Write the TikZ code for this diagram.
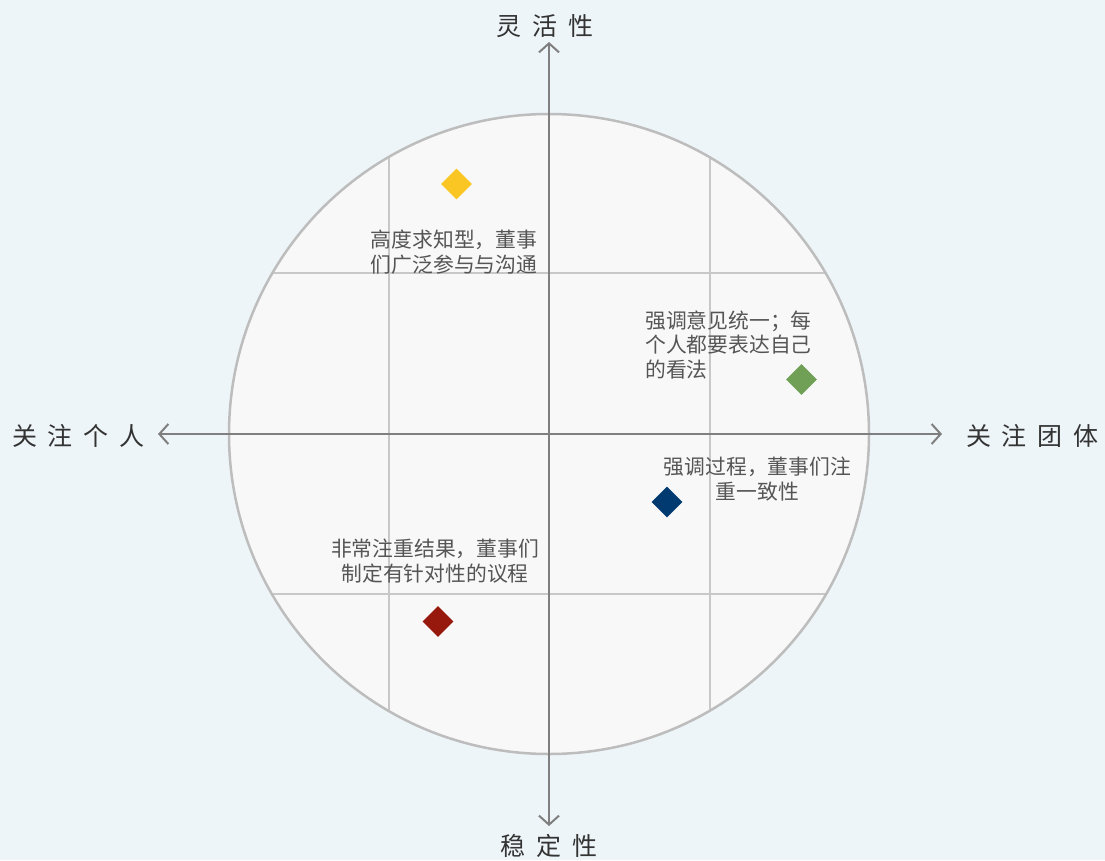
\documentclass[tikz,border=0pt]{standalone}
\usepackage{fontspec}
\setmainfont{Noto Sans CJK SC}
\newfontfamily\axisfont{Noto Sans CJK SC}[WordSpace=1.9]
\usetikzlibrary{arrows.meta,shapes.geometric}
\definecolor{bg}{HTML}{EEF5F8}
\definecolor{circfill}{HTML}{F8F8F8}
\definecolor{circline}{HTML}{BDBDBD}
\definecolor{gridc}{HTML}{C8C8C8}
\definecolor{axisc}{HTML}{7F7F7F}
\definecolor{txt}{HTML}{555555}
\definecolor{lbl}{HTML}{333333}
\definecolor{cy}{HTML}{F9C623}
\definecolor{cg}{HTML}{6FA055}
\definecolor{cb}{HTML}{003A70}
\definecolor{cr}{HTML}{97190E}
\tikzset{
  axisline/.style={draw=axisc, line width=2pt, -{Straight Barb[length=9pt,width=20pt,line width=2pt]}},
  gridline/.style={draw=gridc, line width=1.3pt},
  axislabel/.style={inner sep=0pt, text=lbl, font=\axisfont\fontsize{25}{28}\selectfont},
  note/.style={inner sep=0pt, text=txt, font=\fontsize{20.8}{24.5}\selectfont},
  marker/.style={diamond, aspect=1, inner sep=0pt, minimum width=31pt, minimum height=31pt, draw=none}
}
\begin{document}
\begin{tikzpicture}[x=1pt,y=-1pt]
\useasboundingbox[fill=bg] (0,0) rectangle (1105,860);
\coordinate (c) at (549,434);
\fill[circfill] (c) circle[radius=320];
\begin{scope}
  \clip (c) circle[radius=320];
  \draw[gridline] (389,100) -- (389,770);
  \draw[gridline] (710,100) -- (710,770);
  \draw[gridline] (220,273) -- (880,273);
  \draw[gridline] (220,594) -- (880,594);
\end{scope}
\draw[draw=circline, line width=2.5pt] (c) circle[radius=320];
% axes
\coordinate (top) at (549,42);
\coordinate (bot) at (549,826);
\coordinate (lft) at (158,434);
\coordinate (rgt) at (942,434);
\draw[axisline] (c) -- (top);
\draw[axisline] (c) -- (bot);
\draw[axisline] (c) -- (lft);
\draw[axisline] (c) -- (rgt);
% axis labels
\node[axislabel] (ltop) at (545,26) {灵 活 性};
\node[axislabel] (lbot) at (549,846) {稳 定 性};
\node[axislabel, anchor=west] (llft) at (12,436) {关 注 个 人};
\node[axislabel, anchor=west] (lrgt) at (966,436) {关 注 团 体};
% markers
\node[marker, fill=cy] (my) at (456.5,184) {};
\node[marker, fill=cg] (mg) at (801.5,379.5) {};
\node[marker, fill=cb] (mb) at (667,502) {};
\node[marker, fill=cr] (mr) at (438,621.5) {};
% notes
\node[note, align=center] (ny) at (454,252) {高度求知型，董事\\们广泛参与与沟通};
\node[note, align=left, anchor=west] (ng) at (645,345) {强调意见统一；每\\个人都要表达自己\\的看法};
\node[note, align=center] (nb) at (757.5,479) {强调过程，董事们注\\重一致性};
\node[note, align=center] (nr) at (435,561) {非常注重结果，董事们\\制定有针对性的议程};
\end{tikzpicture}
\end{document}
